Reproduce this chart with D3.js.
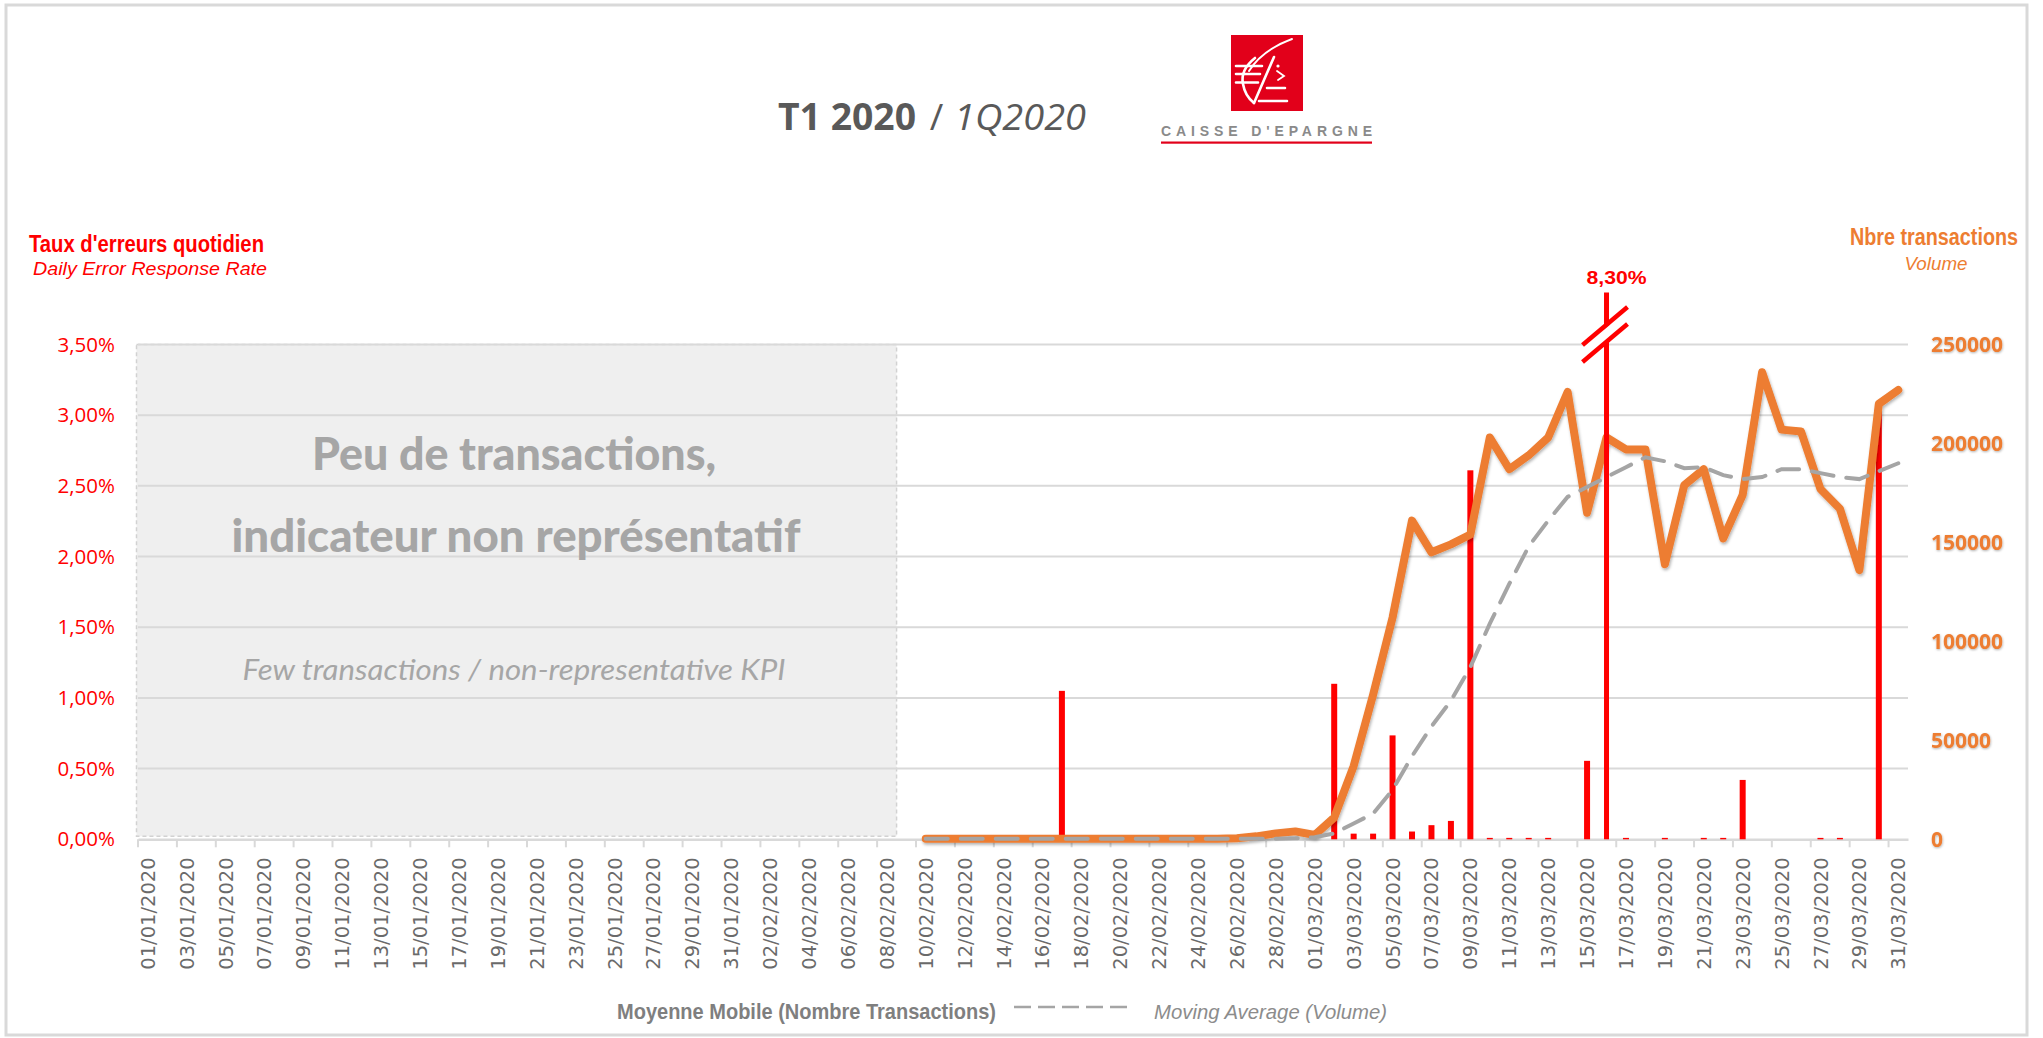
<!DOCTYPE html>
<html>
<head>
<meta charset="utf-8">
<script src="https://cdn.jsdelivr.net/npm/d3@7"></script>
<style>
  body { margin: 0; background: #fff; }
  svg { display: block; }
</style>
</head>
<body>
<div id="chart"></div>
<script>
// ---- data ----
const errorDays = ["17/02/2020", "02/03/2020", "03/03/2020", "04/03/2020", "05/03/2020",
  "06/03/2020", "07/03/2020", "08/03/2020", "09/03/2020", "10/03/2020", "11/03/2020",
  "12/03/2020", "13/03/2020", "15/03/2020", "16/03/2020", "17/03/2020", "19/03/2020",
  "21/03/2020", "22/03/2020", "23/03/2020", "27/03/2020", "28/03/2020", "30/03/2020"];
const errorRates = [1.05, 1.10, 0.04, 0.04, 0.735, 0.055, 0.10, 0.13, 2.61, 0.01, 0.01,
  0.01, 0.01, 0.555, 8.30, 0.01, 0.01, 0.01, 0.01, 0.42, 0.01, 0.01, 3.05];

// daily volume and moving average from 10/02/2020 to 31/03/2020
const volumeStart = "10/02/2020";
const volume = [300, 300, 300, 300, 300, 300, 300, 300, 300, 300, 300, 300, 300, 300, 300, 300,
  500, 1500, 3000, 4000, 2200, 11000, 37000, 73000, 112000, 161000, 145000, 149000, 154000,
  203000, 187000, 194000, 203000, 226000, 165000, 203000, 197000, 197000, 139000, 179000,
  187000, 152000, 174000, 236000, 207000, 206000, 177000, 167000, 136000, 220000, 227000];
const movingAvg = [300, 300, 300, 300, 300, 300, 300, 300, 300, 300, 300, 300, 300, 300, 300,
  300, 300, 300, 300, 500, 1000, 3000, 8000, 13000, 25000, 42000, 57000, 70000, 87000,
  109000, 129000, 148000, 161000, 173000, 178000, 183000, 188000, 193000, 191000, 187500,
  188000, 184000, 182000, 183000, 187000, 187000, 185000, 183000, 182000, 186000, 190000];

const rateTicks = [0, 0.5, 1, 1.5, 2, 2.5, 3, 3.5];
const volumeTicks = [0, 50000, 100000, 150000, 200000, 250000];
const lowActivityEnd = "08/02/2020";
const breakDay = "16/03/2020";
const breakLabel = "8,30%";

const fmtDay = d3.timeFormat("%d/%m/%Y");
const days = d3.timeDay.range(new Date(2020, 0, 1), new Date(2020, 3, 1)).map(fmtDay);

// ---- layout ----
const W = 2043, H = 1038;
const plot = { left: 138, right: 1908, top: 344.5, bottom: 839.3 };

const svg = d3.select("#chart").append("svg").attr("width", W).attr("height", H);

const defs = svg.append("defs");
defs.append("filter").attr("id", "shadow").attr("x", "-5%").attr("y", "-5%")
  .attr("width", "110%").attr("height", "120%")
  .append("feDropShadow").attr("dx", 1).attr("dy", 2).attr("stdDeviation", 1.6)
  .attr("flood-color", "#000").attr("flood-opacity", 0.3);
defs.append("filter").attr("id", "glow")
  .append("feDropShadow").attr("dx", 0.5).attr("dy", 1).attr("stdDeviation", 1)
  .attr("flood-color", "#000").attr("flood-opacity", 0.3);

// outer frame
svg.append("rect").attr("x", 6).attr("y", 5).attr("width", 2021).attr("height", 1030)
  .attr("fill", "none").attr("stroke", "#d9d9d9").attr("stroke-width", 3);

const x = d3.scaleBand().domain(days).range([plot.left, plot.right]);
const bw = x.bandwidth();
const cx = (d) => x(d) + bw / 2;
const yL = d3.scaleLinear().domain([0, 3.5]).range([plot.bottom, plot.top]);
const yR = d3.scaleLinear().domain([0, 250000]).range([plot.bottom, plot.top]);

// grey "low activity" zone
const zoneX0 = x(days[0]) - 1.5;
const zoneX1 = x(lowActivityEnd) + bw;
svg.append("rect")
  .attr("x", zoneX0).attr("y", yL(3.5))
  .attr("width", zoneX1 - zoneX0).attr("height", yL(0) - yL(3.5) - 3)
  .attr("fill", "#efefef").attr("stroke", "#d2d2d2").attr("stroke-width", 1.5)
  .attr("stroke-dasharray", "4,3");

// gridlines
svg.append("g").selectAll("line").data(rateTicks.slice(1)).join("line")
  .attr("x1", plot.left).attr("x2", plot.right)
  .attr("y1", (d) => yL(d)).attr("y2", (d) => yL(d))
  .attr("stroke", "#d9d9d9").attr("stroke-width", 2);

// category axis
const xAxis = svg.append("g").attr("transform", `translate(0,${plot.bottom})`)
  .call(d3.axisBottom(x).tickValues(days.filter((d, i) => i % 2 === 0)).tickSize(0).tickFormat(""));
xAxis.select(".domain").attr("stroke", "#d9d9d9").attr("stroke-width", 2.5);
xAxis.selectAll(".tick").remove();

svg.append("g").selectAll("line").data(days.filter((d, i) => i % 2 === 0)).join("line")
  .attr("x1", (d) => x(d)).attr("x2", (d) => x(d))
  .attr("y1", plot.bottom).attr("y2", plot.bottom + 8)
  .attr("stroke", "#d9d9d9").attr("stroke-width", 2);

svg.append("g").selectAll("text").data(days.filter((d, i) => i % 2 === 0)).join("text")
  .attr("transform", (d) => `translate(${cx(d)},${plot.bottom + 18}) rotate(-90)`)
  .attr("text-anchor", "end").attr("dy", "0.36em")
  .attr("font-family", "DejaVu Sans").attr("font-size", 19.5)
  .attr("fill", "#6a6a6a").text((d) => d);

// left axis labels
svg.append("g").selectAll("text").data(rateTicks).join("text")
  .attr("x", 115).attr("y", (d) => yL(d)).attr("dy", "0.35em")
  .attr("text-anchor", "end").attr("font-family", "Open Sans").attr("font-size", 20.5)
  .attr("fill", "#ff0000")
  .text((d) => d3.format(".2f")(d).replace(".", ",") + "%");

// right axis labels
svg.append("g").attr("filter", "url(#glow)").selectAll("text").data(volumeTicks).join("text")
  .attr("x", 1931).attr("y", (d) => yR(d)).attr("dy", "0.36em")
  .attr("font-family", "Open Sans").attr("font-weight", 700).attr("font-size", 21)
  .attr("fill", "#ed7d31").text((d) => d);

// texts inside the grey zone
const zoneMid = 514;
svg.append("text").attr("x", zoneMid).attr("y", 470).attr("text-anchor", "middle")
  .attr("font-family", "Lato").attr("font-weight", 900).attr("font-size", 45)
  .attr("fill", "#a6a6a6").attr("textLength", 404).attr("lengthAdjust", "spacingAndGlyphs")
  .text("Peu de transactions,");
svg.append("text").attr("x", zoneMid + 2).attr("y", 552).attr("text-anchor", "middle")
  .attr("font-family", "Lato").attr("font-weight", 900).attr("font-size", 45)
  .attr("fill", "#a6a6a6").attr("textLength", 569).attr("lengthAdjust", "spacingAndGlyphs")
  .text("indicateur non représentatif");
svg.append("text").attr("x", zoneMid).attr("y", 680).attr("text-anchor", "middle")
  .attr("font-family", "Lato").attr("font-style", "italic").attr("font-size", 28)
  .attr("fill", "#a6a6a6").attr("textLength", 543).attr("lengthAdjust", "spacingAndGlyphs")
  .text("Few transactions / non-representative KPI");

// error rate bars
const barW = 6;
const barTop = yL(3.5) - 52; // the off-scale bar is cut here
const bars = errorDays.map((d, i) => ({ day: d, v: errorRates[i] }));
svg.append("g").selectAll("rect").data(bars.filter((b) => b.day !== breakDay)).join("rect")
  .attr("x", (d) => cx(d.day) - barW / 2)
  .attr("y", (d) => yL(d.v))
  .attr("width", barW)
  .attr("height", (d) => Math.max(yL(0) - yL(d.v), 1.2))
  .attr("fill", "#ff0000");

// volume line
const s0 = days.indexOf(volumeStart);
const volData = volume.map((v, i) => ({ day: days[s0 + i], v }));
const maData = movingAvg.map((v, i) => ({ day: days[s0 + i], v }));
const line = d3.line().x((d) => cx(d.day)).y((d) => yR(d.v));

svg.append("path").datum(volData).attr("d", line)
  .attr("fill", "none").attr("stroke", "#ed7d31").attr("stroke-width", 8)
  .attr("stroke-linejoin", "round").attr("stroke-linecap", "round")
  .attr("filter", "url(#shadow)");

svg.append("path").datum(maData).attr("d", line)
  .attr("fill", "none").attr("stroke", "#a5a5a5").attr("stroke-width", 4)
  .attr("stroke-dasharray", "22,13").attr("stroke-linecap", "round");

// off-scale bar with break mark
const bx = cx(breakDay);
const bv = bars.find((b) => b.day === breakDay).v;
svg.append("rect").attr("x", bx - 2.5).attr("y", Math.max(yL(bv), barTop))
  .attr("width", 5).attr("height", yL(0) - Math.max(yL(bv), barTop))
  .attr("fill", "#ff0000");
const bc = yL(3.5) - 10;
svg.append("polygon")
  .attr("points", [[bx - 24, bc + 13], [bx + 21, bc - 25], [bx + 21, bc - 11], [bx - 24, bc + 27]].join(" "))
  .attr("fill", "#fff");
[-8.5, 8.5].forEach((o) => {
  svg.append("line")
    .attr("x1", bx - 24).attr("y1", bc + 19 + o).attr("x2", bx + 21).attr("y2", bc - 19 + o)
    .attr("stroke", "#ff0000").attr("stroke-width", 4.5);
});
svg.append("text").attr("x", bx + 10).attr("y", 284).attr("text-anchor", "middle")
  .attr("font-family", "Liberation Sans").attr("font-weight", 700).attr("font-size", 19)
  .attr("fill", "#ff0000").attr("textLength", 60).attr("lengthAdjust", "spacingAndGlyphs")
  .text(breakLabel);

// axis titles
svg.append("text").attr("x", 29).attr("y", 251.5)
  .attr("font-family", "Liberation Sans").attr("font-weight", 700).attr("font-size", 23)
  .attr("fill", "#ff0000").attr("textLength", 235).attr("lengthAdjust", "spacingAndGlyphs")
  .text("Taux d'erreurs quotidien");
svg.append("text").attr("x", 33).attr("y", 275)
  .attr("font-family", "Liberation Sans").attr("font-style", "italic").attr("font-size", 19)
  .attr("fill", "#ff0000").attr("textLength", 234).attr("lengthAdjust", "spacingAndGlyphs")
  .text("Daily Error Response Rate");
// narrow bold title: squeezed horizontally so its box stays inside the frame
svg.append("text").attr("transform", "translate(1850,245) scale(0.86,1)")
  .attr("font-family", "Liberation Sans").attr("font-weight", 700).attr("font-size", 23)
  .attr("fill", "#ed7d31")
  .text("Nbre transactions");
svg.append("text").attr("x", 1936).attr("y", 270).attr("text-anchor", "middle")
  .attr("font-family", "Liberation Sans").attr("font-style", "italic").attr("font-size", 19)
  .attr("fill", "#ed7d31").attr("textLength", 63).attr("lengthAdjust", "spacingAndGlyphs")
  .text("Volume");

// title
svg.append("text").attr("x", 778).attr("y", 129.5)
  .attr("font-family", "Open Sans").attr("font-weight", 700).attr("font-size", 37)
  .attr("fill", "#595959").attr("textLength", 138).attr("lengthAdjust", "spacingAndGlyphs")
  .text("T1 2020");
svg.append("text").attr("x", 936.5).attr("y", 129.5).attr("text-anchor", "middle")
  .attr("font-family", "Open Sans").attr("font-size", 37).attr("fill", "#595959").text("/");
svg.append("text").attr("x", 954).attr("y", 129.5)
  .attr("font-family", "Open Sans").attr("font-style", "italic").attr("font-size", 37)
  .attr("fill", "#595959").attr("textLength", 132).attr("lengthAdjust", "spacingAndGlyphs")
  .text("1Q2020");

// logo
const logo = svg.append("g");
logo.append("rect").attr("x", 1231).attr("y", 35).attr("width", 72).attr("height", 76).attr("fill", "#e2001a");
const wl = (p, w) => logo.append("path").attr("d", p).attr("fill", "none")
  .attr("stroke", "#fff").attr("stroke-width", w).attr("stroke-linecap", "round");
wl("M1249,71 Q1262,50 1292,39", 2);
wl("M1255,58 Q1240,70 1243,84 Q1245,96 1254,103", 2.6);
wl("M1236,66 H1262 M1236,74 H1260 M1236,82.5 H1258", 2.6);
wl("M1254,103 L1274,57", 2.6);
wl("M1277,71 L1284,76 L1278,80", 1.8);
wl("M1267,88 H1285 M1259,101 H1287", 2.6);
logo.append("circle").attr("cx", 1278).attr("cy", 66).attr("r", 1.6).attr("fill", "#fff");
logo.append("text").attr("x", 1161).attr("y", 135.5)
  .attr("font-family", "Liberation Sans").attr("font-weight", 700).attr("font-size", 14)
  .attr("fill", "#8a8a8a").attr("textLength", 211).attr("lengthAdjust", "spacing")
  .text("CAISSE D'EPARGNE");
logo.append("rect").attr("x", 1161).attr("y", 141.5).attr("width", 211).attr("height", 2.2).attr("fill", "#e2001a");

// legend
svg.append("text").attr("x", 617).attr("y", 1019)
  .attr("font-family", "Liberation Sans").attr("font-weight", 700).attr("font-size", 22)
  .attr("fill", "#7f7f7f").attr("textLength", 379).attr("lengthAdjust", "spacingAndGlyphs")
  .text("Moyenne Mobile (Nombre Transactions)");
svg.append("line").attr("x1", 1014).attr("x2", 1131).attr("y1", 1007).attr("y2", 1007)
  .attr("stroke", "#a5a5a5").attr("stroke-width", 2.5).attr("stroke-dasharray", "17,7");
svg.append("text").attr("x", 1154).attr("y", 1019)
  .attr("font-family", "Liberation Sans").attr("font-style", "italic").attr("font-size", 21)
  .attr("fill", "#8c8c8c").attr("textLength", 233).attr("lengthAdjust", "spacingAndGlyphs")
  .text("Moving  Average (Volume)");
</script>
</body>
</html>
